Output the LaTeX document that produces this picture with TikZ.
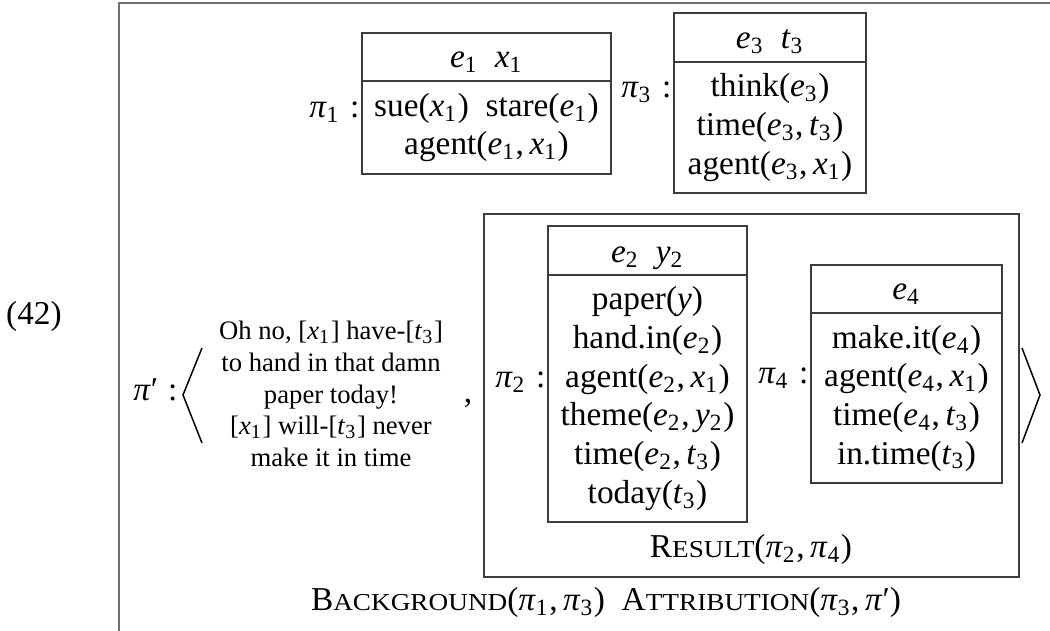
\documentclass[tikz,border=0pt]{standalone}
\usepackage{fontspec}
\setmainfont{Liberation Serif}
\usepackage{graphicx}
\usetikzlibrary{fit,positioning}
\definecolor{framegray}{RGB}{112,112,112}
\definecolor{boxgray}{RGB}{60,60,60}
\newcommand{\dvar}[2]{\textit{#1}\textsubscript{#2}}
\newcommand{\pin}[1]{\textit{π}\textsubscript{#1}}
\newcommand{\fsc}[2]{#1\scalebox{1.12}[1]{\fontsize{7.3}{8}\selectfont #2}}
\tikzset{
  frm/.style={framegray, line width=0.6pt},
  drs/.style={draw=boxgray, line width=0.4pt, inner sep=0pt},
  dline/.style={boxgray, line width=0.4pt},
  hdr/.style={anchor=base, inner sep=0pt},
  cond/.style={align=center, inner sep=0pt, font=\fontsize{10}{11.6}\selectfont},
  lab/.style={anchor=base east, inner sep=0pt},
  ang/.style={black, line width=0.45pt},
  say/.style={align=center, inner sep=0pt, font=\footnotesize},
  rel/.style={anchor=base, inner sep=0pt},
}
\newcommand{\drsbox}[6]{%
  \node[drs, fit={(#2,#3) (#4,#5)}] (#1) {};
  \draw[dline] (#1.west |- 0,#6) -- (#1.east |- 0,#6);}

\begin{document}
\begin{tikzpicture}[x=0.3pt, y=-0.3pt]
    \useasboundingbox (0,0) rectangle (1050,631);
    \draw[frm] (119,631) -- (119,3) -- (1050,3);
    \node[rel] (num) at (34,325) {(42)};
    % top row
    \drsbox{p1}{362}{33}{611}{174}{81}
    \node[hdr] (p1h) at (486.5,68) {\dvar{e}{1}~~\dvar{x}{1}};
    \node[cond] (p1c) at (486.5,127.5) {sue(\dvar{x}{1})~~stare(\dvar{e}{1})\\agent(\dvar{e}{1},\,\dvar{x}{1})};
    \node[lab] (p1l) at (360,118) {\pin{1}\kern3pt:};
    \drsbox{p3}{674}{13}{866}{193}{62}
    \node[hdr] (p3h) at (770,49) {\dvar{e}{3}~~\dvar{t}{3}};
    \node[cond] (p3c) at (770,127.5) {think(\dvar{e}{3})\\time(\dvar{e}{3},\,\dvar{t}{3})\\agent(\dvar{e}{3},\,\dvar{x}{1})};
    \node[lab] (p3l) at (672,98) {\pin{3}\kern3pt:};
    % pi' pair
    \node[lab] (ppl) at (178,401) {\textit{π}′\kern3pt:};
    \draw[ang] (202,348) -- (183,395) -- (202,443);
    \node[say] (say) at (331,394) {Oh no, [\dvar{x}{1}] have-[\dvar{t}{3}]\\to hand in that damn\\paper today!\\{}[\dvar{x}{1}] will-[\dvar{t}{3}] never\\make it in time};
    \node[rel] (comma) at (468,403) {,};
    \node[drs, fit={(484,214) (1019,577)}] (res) {};
    \drsbox{p2}{548}{226}{747}{522}{275}
    \node[hdr] (p2h) at (647.5,263) {\dvar{e}{2}~~\dvar{y}{2}};
    \node[cond] (p2c) at (647.5,398.5) {paper(\textit{y})\\hand.in(\dvar{e}{2})\\agent(\dvar{e}{2},\,\dvar{x}{1})\\theme(\dvar{e}{2},\,\dvar{y}{2})\\time(\dvar{e}{2},\,\dvar{t}{3})\\today(\dvar{t}{3})};
    \node[lab] (p2l) at (546,388) {\pin{2}\kern3pt:};
    \drsbox{p4}{811}{265}{1002}{483}{313}
    \node[hdr] (p4h) at (906.5,300) {\dvar{e}{4}};
    \node[cond] (p4c) at (906.5,398) {make.it(\dvar{e}{4})\\agent(\dvar{e}{4},\,\dvar{x}{1})\\time(\dvar{e}{4},\,\dvar{t}{3})\\in.time(\dvar{t}{3})};
    \node[lab] (p4l) at (809,384) {\pin{4}\kern3pt:};
    \node[rel] (resl) at (751,558) {\fsc{R}{ESULT}(\pin{2},\,\pin{4})};
    \draw[ang] (1022,348) -- (1040,395) -- (1022,443);
    \node[rel] (rels) at (606,611) {\fsc{B}{ACKGROUND}(\pin{1},\,\pin{3})~~\fsc{A}{TTRIBUTION}(\pin{3},\,\textit{π}′)};
\end{tikzpicture}
\end{document}
